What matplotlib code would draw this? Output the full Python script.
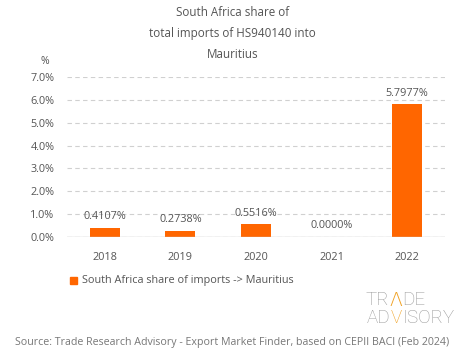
import matplotlib
matplotlib.use("Agg")
import matplotlib.pyplot as plt
from matplotlib.patches import Rectangle

years = ["2018", "2019", "2020", "2021", "2022"]
values = [0.4107, 0.2738, 0.5516, 0.0000, 5.7977]
yticks = [0, 1, 2, 3, 4, 5, 6, 7]
title_lines = ["South Africa share of", "total imports of HS940140 into", "Mauritius"]
legend_label = "South Africa share of imports -> Mauritius"
source = "Source: Trade Research Advisory - Export Market Finder, based on CEPII BACI (Feb 2024)"

orange = "#FF6600"
grey = "#555555"
plt.rcParams['font.family'] = ['Open Sans', 'DejaVu Sans']

fig = plt.figure(figsize=(4.65, 3.59), dpi=100)
ax = fig.add_axes([0.144, 0.34, 0.813, 0.4455])
x = range(len(years))
ax.bar(x, values, width=0.4, color=orange, zorder=3)
ax.set_xlim(-0.5, 4.5)
ax.set_ylim(0, 7)
ax.set_yticks(yticks)
ax.set_yticklabels([f"{t:.1f}%" for t in yticks], color=grey, fontsize=7.8)
ax.set_xticks(list(x))
ax.set_xticklabels(years, color=grey, fontsize=7.8)
ax.tick_params(length=0, pad=9)
ax.tick_params(axis='x', pad=11)
for s in ax.spines.values():
    s.set_visible(False)
ax.yaxis.grid(True, linestyle=(0, (4, 3)), color="#d0d0d0", linewidth=0.8, zorder=0)
ax.axhline(0, color="#c8c8c8", linewidth=1, zorder=4)
for xi, v in zip(x, values):
    ax.annotate(f"{v:.4f}%", (xi, v), xytext=(0, 4), textcoords="offset points",
                ha="center", va="bottom", color=grey, fontsize=7.8)

for i, line in enumerate(title_lines):
    fig.text(0.5, 1 - (13 + i * 21) / 359, line, ha="center", va="center", color=grey, fontsize=8.4)
fig.text(45 / 465, 1 - 61 / 359, "%", ha="center", va="center", color=grey, fontsize=7.5)

fig.patches.append(Rectangle((70 / 465, 1 - 284 / 359), 7 / 465, 7 / 359,
                             transform=fig.transFigure, color=orange))
fig.text(82 / 465, 1 - 280 / 359, legend_label, ha="left", va="center", color=grey, fontsize=7.8)

fig.text(0.5, 1 - 343 / 359, source, ha="center", va="center", color="#777777", fontsize=7.7)

# logo, pieces placed one after another using measured widths
lg = "#999999"
lo = "#f0a020"
renderer = fig.canvas.get_renderer()


def place(x0_px, y_px, pieces):
    xp = x0_px
    for s, c, fam in pieces:
        t = fig.text(xp / 465, 1 - y_px / 359, s, color=c, ha="left", va="center",
                     fontsize=13.5, family=fam, fontweight="light")
        bb = t.get_window_extent(renderer)
        xp += bb.width + 0.5


place(365, 300, [("TR", lg, "Roboto"), ("\u039b", lo, "DejaVu Sans"), ("DE", lg, "Roboto")])
place(367, 318, [("AD", lg, "Roboto"), ("V", lo, "Roboto"), ("ISORY", lg, "Roboto")])

fig.savefig("out.png", dpi=100, facecolor="white")
